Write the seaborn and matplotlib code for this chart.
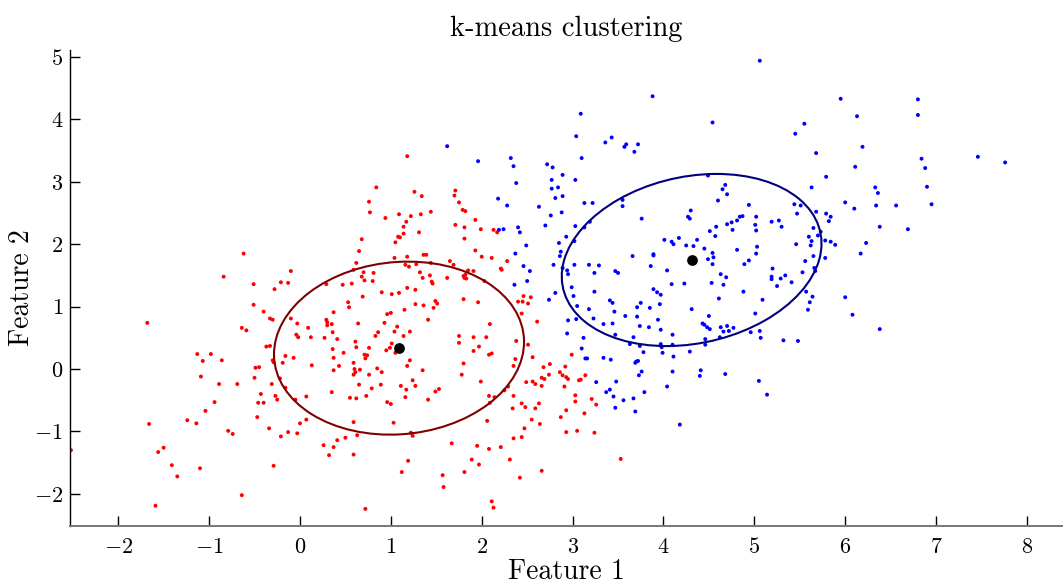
import matplotlib
matplotlib.use("Agg")
import matplotlib.pyplot as plt
from matplotlib.patches import Ellipse
import seaborn as sns
import pandas as pd

# ---- data ----
red_pts = [
    (-0.62,1.85),(-0.84,1.48),(-0.51,1.36),(-0.10,1.57),(-0.21,1.39),(-0.13,1.38),(-0.28,1.28),(-0.51,1.03),(-0.40,0.92),(-0.33,0.81),
    (-0.30,0.79),(-1.68,0.74),(-0.10,0.81),(-0.03,0.73),(0.09,0.66),(-0.64,0.66),(-0.59,0.62),(-0.04,0.55),(-0.02,0.51),(0.12,0.51),
    (-0.37,0.36),(-0.33,0.37),
    (-1.13,0.24),(-0.98,0.24),(-1.07,0.13),(-0.86,0.14),(-0.30,0.14),(-0.29,0.11),(-0.19,0.10),(-0.16,0.21),(-0.07,0.18),(0.13,0.06),
    (-0.49,0.02),(-0.45,0.03),(-1.09,-0.12),(-0.50,-0.14),(-0.22,-0.15),(-0.89,-0.24),(-0.69,-0.24),(-0.31,-0.24),(-0.16,-0.30),(-0.43,-0.40),
    (-0.27,-0.43),(-0.25,-0.49),(-0.46,-0.54),(-0.40,-0.54),(-0.05,-0.49),(0.07,-0.44),(-0.94,-0.53),(-1.04,-0.67),(-0.47,-0.77),(0.07,-0.81),
    (0.00,-0.87),(-1.24,-0.82),(-1.14,-0.87),(-1.66,-0.88),(-0.34,-0.95),(-0.79,-0.99),(-0.74,-1.04),(-0.13,-1.01),(-0.03,-1.03),(-0.21,-1.08),
    (-2.52,-1.30),(-1.50,-1.26),(-1.56,-1.33),(-1.41,-1.54),(-1.10,-1.59),(-0.29,-1.55),(-1.35,-1.72),(-0.64,-2.02),(-1.59,-2.19),
    (1.18,3.41),(0.84,2.91),(0.76,2.68),(0.77,2.51),(1.26,2.84),(1.34,2.77),(0.94,2.42),(1.09,2.48),(1.22,2.45),(1.33,2.48),
    (1.44,2.52),(1.17,2.36),(1.14,2.28),(1.08,2.12),(1.10,2.11),(1.14,2.17),(1.31,2.19),(1.05,2.03),(0.68,2.08),(0.65,1.89),
    (0.62,1.70),(0.59,1.59),(0.70,1.55),(0.81,1.54),(0.68,1.48),(0.71,1.42),(0.80,1.41),(0.47,1.35),(0.57,1.37),(0.29,1.36),
    (1.04,1.78),(1.18,1.80),(1.36,1.83),(1.39,1.83),(1.16,1.67),(1.20,1.64),(1.28,1.68),(1.44,1.70),(1.32,1.55),(1.35,1.46),
    (1.43,1.50),(1.45,1.40),(1.46,1.37),(1.62,1.46),(1.18,1.30),(1.27,1.27),(0.90,1.23),(1.01,1.20),(1.09,1.22),(0.69,1.16),
    (0.53,1.07),(0.54,0.99),(0.37,0.91),(0.29,0.79),(0.30,0.75),(0.30,0.70),(0.35,0.72),(0.36,0.59),(0.27,0.50),(0.41,0.48),
    (0.64,0.73),(0.96,0.88),(1.00,0.90),(0.93,0.74),(1.15,0.95),(1.27,1.04),(1.36,1.02),(1.41,0.79),(1.49,1.09),(1.51,1.05),
    (1.47,0.98),(1.07,0.68),(1.04,0.60),(1.21,0.60),(1.14,0.53),(0.86,0.59),(0.83,0.53),(1.71,2.86),(1.70,2.78),(1.75,2.67),
    (1.79,2.55),(1.82,2.53),(1.93,2.39),(1.71,2.31),(1.81,2.27),(1.99,2.24),(2.13,2.23),(2.17,2.19),(1.81,2.09),(1.93,1.90),
    (2.00,1.80),(2.11,1.78),(2.28,1.73),(1.65,1.73),(1.69,1.67),(1.85,1.58),(1.91,1.57),(1.80,1.49),(1.81,1.46),(1.82,1.51),
    (1.83,1.45),(2.03,1.41),(2.21,1.61),(2.22,1.59),(2.46,1.17),(2.54,1.15),(2.40,1.08),(2.45,1.08),(2.51,1.05),(1.80,1.12),
    (1.96,1.07),(2.44,0.89),(2.61,0.76),(2.09,0.72),(1.75,0.53),(1.91,0.51),(2.05,0.51),
    (0.61,0.44),(0.62,0.35),(0.36,0.32),(0.76,0.34),(1.01,0.41),(0.99,0.34),(0.95,0.30),(1.05,0.26),(0.48,0.26),(0.71,0.23),
    (0.74,0.22),(0.72,0.17),(0.37,0.18),(0.43,0.05),(0.37,-0.02),(0.59,0.10),(0.60,0.00),(0.66,-0.01),(0.59,-0.09),(0.61,-0.05),
    (0.76,-0.09),(0.85,0.01),(0.90,-0.05),(1.18,0.05),(1.21,0.14),(1.35,-0.02),(0.65,-0.25),(0.79,-0.31),(0.89,-0.25),(1.11,-0.27),
    (1.17,-0.33),(1.24,-0.18),(1.27,-0.27),(1.16,-0.45),(0.35,-0.37),(0.55,-0.46),(0.62,-0.47),(0.73,-0.43),(0.96,-0.53),(1.00,-0.56),
    (1.49,-0.36),(1.53,-0.32),(1.41,-0.49),(1.75,0.42),(1.91,0.29),(1.97,0.36),(2.08,0.23),(2.11,0.25),(1.80,0.09),(1.78,-0.09),
    (1.99,-0.20),(2.38,0.45),(2.51,0.39),(2.37,0.16),(2.35,0.05),(2.56,0.19),(2.75,0.08),(2.68,0.03),(2.86,-0.05),(2.89,-0.10),
    (2.92,0.04),(2.93,-0.13),(2.95,-0.16),(2.74,-0.09),(2.66,-0.14),(2.69,-0.16),(2.49,-0.21),(2.56,-0.20),(2.59,-0.24),(2.66,-0.27),
    (2.91,-0.28),(2.25,-0.34),(2.29,-0.28),(2.08,-0.43),(2.14,-0.45),(2.35,-0.43),(2.09,-0.54),(2.44,-0.55),(2.48,-0.61),(2.34,-0.63),
    (2.63,-0.55),(2.59,-0.63),(2.93,-0.66),(2.87,-0.77),(2.55,-0.81),(2.64,-0.88),(2.47,-0.95),(2.93,-1.01),(2.06,-0.83),(1.03,-0.86),
    (0.59,-0.85),(0.63,-1.06),(1.22,-1.02),(1.24,-1.07),(0.50,-1.10),(0.41,-1.14),(0.26,-1.22),(0.37,-1.25),(0.32,-1.38),(0.59,-1.37),
    (1.19,-1.47),(1.12,-1.65),(1.67,-1.19),(1.95,-1.23),(2.08,-1.28),(2.21,-1.25),(1.89,-1.45),(1.97,-1.53),(1.81,-1.65),(1.57,-1.70),
    (1.58,-1.89),(2.31,-1.45),(2.35,-1.11),(2.44,-1.09),(2.66,-1.63),(2.42,-1.74),(0.72,-2.24),(2.11,-2.12),(2.13,-2.22),(2.37,-2.54),
    (2.99,0.23),(3.14,-0.10),(3.07,-0.18),(3.09,-0.17),(3.03,-0.42),(3.03,-0.52),(3.21,-0.48),(3.26,-0.57),(3.13,-0.71),(3.05,-0.99),
    (3.24,-1.02),(3.53,-1.44),
]

blue_pts = [
    (1.62,3.57),(1.96,3.33),(2.32,3.38),(2.35,3.25),(2.38,2.98),(2.18,2.73),(2.28,2.62),(2.72,3.28),(2.78,3.23),(2.89,3.11),
    (2.77,3.03),(2.84,2.91),(2.77,2.89),(2.89,2.77),(2.81,2.74),(2.63,2.60),(2.88,2.51),(2.76,2.46),(2.70,2.30),(2.40,2.27),
    (2.42,2.19),(2.19,2.23),(2.24,2.24),(2.49,1.98),(2.37,1.85),(2.93,2.12),(2.85,2.02),(2.87,1.88),(2.86,1.81),(2.46,1.65),
    (2.53,1.57),(2.79,1.67),(2.89,1.62),(2.94,1.58),(2.95,1.52),(2.36,1.35),(2.50,1.41),(2.81,1.22),(2.74,1.11),(2.95,0.78),
    (2.94,0.57),
    (5.06,4.94),(3.88,4.37),(3.09,4.09),(3.04,3.73),(3.36,3.63),(3.43,3.71),(3.57,3.56),(3.59,3.60),(3.72,3.60),(3.68,3.48),
    (3.10,3.38),(3.03,3.03),(4.54,3.95),(5.45,3.77),(5.55,3.93),(5.68,3.46),(4.49,3.10),(4.68,2.95),(4.65,2.88),(4.70,2.80),
    (4.60,2.70),(4.94,2.63),(5.63,2.91),(5.44,2.64),(5.51,2.62),(5.47,2.49),(5.68,2.52),(5.65,2.26),(5.70,2.14),(5.60,2.12),
    (3.13,2.66),(3.22,2.66),(3.55,2.71),(3.55,2.61),(3.76,2.41),(3.19,2.36),(3.13,2.27),(3.03,2.29),(4.30,2.54),(4.27,2.44),
    (4.29,2.41),(4.84,2.44),(4.87,2.45),(4.81,2.38),(4.75,2.35),(4.70,2.32),(4.76,2.23),(4.58,2.28),(4.51,2.21),(4.57,2.13),
    (5.02,2.44),(5.01,2.31),(5.02,2.22),(5.19,2.36),(5.27,2.38),(5.30,2.28),(4.01,2.07),(4.17,2.10),(4.37,2.07),
    (3.02,2.05),(4.09,2.04),(4.11,2.00),(4.25,1.98),(4.33,1.97),(4.45,1.93),(4.54,1.86),(4.55,1.79),(4.49,1.76),(4.54,1.68),
    (4.81,1.91),(5.03,1.96),(5.02,1.85),(4.94,1.74),(4.89,1.68),(5.46,2.00),(5.62,1.98),(5.63,2.05),(5.65,1.81),(5.56,1.73),
    (5.66,1.62),(5.67,1.57),(5.53,1.55),(5.20,1.61),(5.19,1.48),(5.19,1.44),(5.29,1.45),(5.34,1.50),(5.41,1.39),(5.25,1.33),
    (5.57,1.24),(5.64,1.16),(5.61,1.07),(5.59,0.95),(5.48,0.45),(5.32,0.46),(5.09,1.11),(5.01,0.89),(5.06,0.61),(5.07,0.50),
    (4.96,0.59),(4.88,1.24),(4.63,1.52),(4.69,1.47),(4.66,1.35),(4.53,1.38),(4.61,1.13),(4.50,0.85),(4.43,0.73),(4.45,0.71),
    (4.48,0.67),(4.51,0.64),(4.63,0.67),(4.70,0.69),(4.66,0.60),(4.72,0.61),(4.77,0.66),(4.62,0.51),(4.46,0.48),(4.46,0.39),
    (4.31,0.96),(4.23,1.37),(4.09,1.36),(4.04,1.58),(3.89,1.84),(3.89,1.82),(3.66,1.81),(3.86,1.65),(3.02,1.67),(3.18,1.67),
    (3.29,1.66),(3.24,1.54),(3.47,1.57),(3.50,1.54),(2.99,1.31),(3.24,1.24),(3.01,1.17),(3.05,1.01),(3.18,0.96),(3.04,0.80),
    (3.23,0.81),(3.34,0.72),(3.44,0.73),(3.41,1.10),(3.44,1.06),(3.46,0.92),(3.47,0.55),(3.58,0.85),(3.71,0.99),(3.75,1.06),
    (3.71,0.84),(3.74,0.69),(3.85,0.98),(3.84,0.67),(3.89,1.28),(3.93,1.23),(3.97,1.19),(3.96,1.04),(3.94,0.79),(3.97,0.63),
    (3.67,0.51),(3.63,0.40),(3.74,0.37),(3.78,0.27),(3.97,0.40),(3.98,0.35),(3.99,0.26),(4.10,0.55),(4.10,0.39),(4.11,0.20),
    (4.29,0.28),(3.12,0.50),(3.10,0.33),(3.14,0.17),(3.16,0.17),(3.34,0.18),(3.42,0.15),(3.69,0.10),(3.70,0.12),(3.72,0.13),
    (3.76,-0.04),(3.73,-0.10),(3.26,-0.21),(3.48,-0.20),(3.37,-0.37),(3.41,-0.33),(3.45,-0.44),(3.56,-0.50),(3.67,-0.47),(3.79,-0.37),
    (3.47,-0.62),(3.69,-0.68),(4.04,-0.28),(4.10,-0.04),(4.41,-0.02),(4.40,-0.11),(4.68,-0.08),(5.05,-0.19),(5.14,-0.41),(4.18,-0.89),
    (5.95,4.33),(6.80,4.32),(6.80,4.07),(6.13,4.05),(6.19,3.56),(6.84,3.37),(6.88,3.22),(7.46,3.40),(7.76,3.31),(6.11,3.24),
    (5.79,3.08),(6.33,2.91),(6.36,2.82),(6.90,2.92),(6.95,2.64),(6.00,2.67),(6.10,2.57),(6.34,2.62),(6.56,2.62),(5.79,2.49),
    (5.84,2.44),(5.82,2.37),(6.38,2.28),(6.69,2.24),(5.73,2.20),
    (5.78,2.06),(5.84,2.04),(5.89,1.99),(6.23,2.02),(6.17,1.85),(5.78,1.78),(6.00,1.15),(6.08,0.87),(6.38,0.64),
]

centroid_x = [1.09, 4.31]
centroid_y = [0.335, 1.747]

# ellipse parameters: width, height (data units), angle (deg)
ellipse_w = [2.86, 3.07]
ellipse_h = [2.66, 2.52]
ellipse_angle = [47.9, 39.7]
ellipse_colors = ["#7f0000", "#00007f"]

point_colors = {"1": "#ff0000", "2": "#0000ff"}

x_ticks = [-2, -1, 0, 1, 2, 3, 4, 5, 6, 7, 8]
y_ticks = [-2, -1, 0, 1, 2, 3, 4, 5]

# ---- build table ----
rows = [(x, y, "1") for x, y in red_pts] + [(x, y, "2") for x, y in blue_pts]
df = pd.DataFrame(rows, columns=["Feature 1", "Feature 2", "cluster"])

sns.set_theme(style="white")
plt.rcParams["font.family"] = "serif"
plt.rcParams["font.serif"] = ["cmr10"]
plt.rcParams["mathtext.fontset"] = "cm"
plt.rcParams["axes.formatter.use_mathtext"] = True
plt.rcParams["text.color"] = "black"
plt.rcParams["axes.labelcolor"] = "black"
plt.rcParams["xtick.labelsize"] = 16
plt.rcParams["ytick.labelsize"] = 16

fig = plt.figure(figsize=(10.63, 5.85), dpi=100)
ax = fig.add_axes([0.0659, 0.1009, 0.9332, 0.8136])

sns.scatterplot(data=df, x="Feature 1", y="Feature 2", hue="cluster",
                palette=point_colors, s=8, linewidth=0, ax=ax, legend=False)

for i in range(2):
    e = Ellipse((centroid_x[i], centroid_y[i]), ellipse_w[i], ellipse_h[i],
                angle=ellipse_angle[i], fill=False, edgecolor=ellipse_colors[i], linewidth=1.5)
    ax.add_patch(e)

sns.scatterplot(x=centroid_x, y=centroid_y, color="black", s=60, linewidth=0, ax=ax, zorder=5)

ax.set_xlim(-2.53, 8.386)
ax.set_ylim(-2.514, 5.111)
ax.set_xticks(x_ticks)
ax.set_yticks(y_ticks)
ax.tick_params(axis="both", which="major", direction="in", length=7, width=1.0,
               labelsize=16, colors="black", bottom=True, left=True)
ax.tick_params(axis="x", pad=8)
ax.tick_params(axis="y", pad=5)
sns.despine(ax=ax)
ax.spines["left"].set_color("black")
ax.spines["left"].set_linewidth(1.0)
ax.spines["bottom"].set_color("#777777")
ax.spines["bottom"].set_linewidth(1.4)

ax.set_xlabel("Feature 1", fontsize=20, labelpad=1)
ax.set_ylabel("Feature 2", fontsize=20, labelpad=-1)
ax.set_title("k-means clustering", fontsize=20.5, pad=10)

fig.savefig("out.png", dpi=100)
